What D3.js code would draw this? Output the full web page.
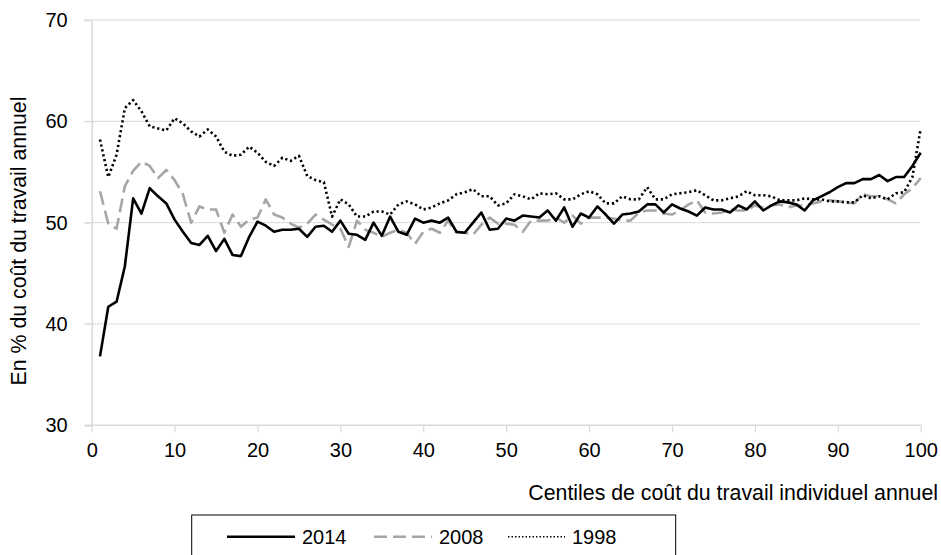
<!DOCTYPE html>
<html>
<head>
<meta charset="utf-8">
<script src="https://cdn.jsdelivr.net/npm/d3@7"></script>
<style>
  html, body { margin: 0; padding: 0; background: #fff; }
  svg text { font-family: "Liberation Sans", Arial, Helvetica, sans-serif; fill: #000; }
</style>
</head>
<body>
<svg id="chart" width="941" height="555"></svg>
<script>
const centiles = d3.range(1, 101);
const xTicks = [0, 10, 20, 30, 40, 50, 60, 70, 80, 90, 100];
const yTicks = [30, 40, 50, 60, 70];
const seriesNames = ["2014", "2008", "1998"];

const s2014 = [
  36.8, 41.7, 42.2, 45.7, 52.4, 50.9, 53.4, 52.6, 51.9, 50.3,
  49.1, 48.0, 47.8, 48.7, 47.2, 48.4, 46.8, 46.7, 48.6, 50.1,
  49.7, 49.1, 49.3, 49.3, 49.4, 48.6, 49.6, 49.7, 49.1, 50.2,
  48.9, 48.8, 48.3, 50.0, 48.7, 50.6, 49.1, 48.8, 50.4, 50.0,
  50.2, 50.0, 50.5, 49.1, 49.0, 50.0, 51.0, 49.3, 49.4, 50.4,
  50.2, 50.7, 50.6, 50.5, 51.2, 50.2, 51.5, 49.6, 50.9, 50.5,
  51.6, 50.8, 49.9, 50.8, 50.9, 51.1, 51.8, 51.8, 51.0, 51.8,
  51.4, 51.1, 50.7, 51.5, 51.3, 51.3, 51.0, 51.7, 51.3, 52.1,
  51.2, 51.7, 52.1, 52.0, 51.8, 51.2, 52.2, 52.6, 53.0, 53.5,
  53.9, 53.9, 54.3, 54.3, 54.7, 54.1, 54.5, 54.5, 55.6, 56.9
];
const s2008 = [
  53.1, 49.9, 49.4, 53.6, 55.1, 56.0, 55.6, 54.4, 55.2, 54.2,
  52.8, 50.0, 51.6, 51.3, 51.3, 49.0, 50.8, 49.6, 50.3, 50.5,
  52.3, 50.8, 50.5, 49.9, 49.5, 49.9, 50.8, 50.3, 49.8, 49.4,
  47.6, 50.2, 49.3, 49.0, 48.6, 49.0, 49.3, 49.0, 47.9, 49.1,
  49.4, 49.0, 50.2, 49.0, 49.0, 48.8, 49.8, 50.5, 49.9, 49.9,
  49.8, 49.1, 50.2, 50.2, 50.2, 50.5, 50.0, 50.7, 49.9, 50.5,
  50.5, 50.5, 50.4, 50.2, 50.2, 51.0, 51.2, 51.2, 50.9, 50.8,
  51.2, 51.8, 52.2, 51.0, 50.9, 51.0, 51.3, 51.2, 51.2, 51.7,
  51.5, 51.7, 51.8, 51.5, 51.7, 51.7, 51.9, 52.1, 52.2, 52.1,
  52.0, 51.9, 52.8, 52.6, 52.6, 52.3, 51.9, 52.8, 53.4, 54.4
];
const s1998 = [
  58.2, 54.5, 56.7, 61.3, 62.1, 61.0, 59.5, 59.3, 59.1, 60.3,
  59.8, 59.0, 58.5, 59.2, 58.5, 57.0, 56.6, 56.7, 57.5, 56.9,
  56.0, 55.6, 56.4, 56.1, 56.6, 54.6, 54.2, 54.0, 50.6, 52.3,
  51.8, 50.6, 50.6, 51.1, 51.1, 50.8, 51.8, 52.1, 51.8, 51.3,
  51.5, 51.9, 52.2, 52.8, 53.0, 53.3, 52.6, 52.6, 51.7, 51.9,
  52.8, 52.6, 52.3, 52.9, 52.8, 52.9, 52.3, 52.3, 52.8, 53.1,
  52.8, 51.9, 51.9, 52.6, 52.3, 52.3, 53.5, 52.3, 52.3, 52.8,
  52.9, 53.0, 53.2, 52.7, 52.2, 52.2, 52.4, 52.6, 53.1, 52.7,
  52.7, 52.6, 52.2, 52.2, 52.2, 52.4, 52.3, 52.3, 52.1, 52.1,
  52.0, 52.0, 52.7, 52.4, 52.6, 52.3, 52.9, 53.0, 54.5, 59.3
];

const yTitle = "En % du coût du travail annuel";
const xTitle = "Centiles de coût du travail individuel annuel";

const svg = d3.select("#chart");
const x = d3.scaleLinear().domain([0, 100]).range([91.7, 920.7]);
const y = d3.scaleLinear().domain([30, 70]).range([425.3, 20]);
const axisColor = "#d9d9d9";
const FS = 20;
const FT = 21.3;

// gridlines
svg.append("g").selectAll("line")
  .data(yTicks.filter(d => d > 30))
  .join("line")
  .attr("x1", x(0) - 7).attr("x2", x(100))
  .attr("y1", d => y(d)).attr("y2", d => y(d))
  .attr("stroke", "#b3b3b3").attr("stroke-width", 1)
  .attr("stroke-dasharray", "1,1");

// y axis
const yAxis = svg.append("g")
  .attr("transform", `translate(${x(0)},0)`)
  .call(d3.axisLeft(y).tickValues(yTicks).tickSize(7).tickPadding(17).tickFormat(d3.format("d")));
yAxis.select(".domain").attr("stroke", axisColor).attr("stroke-width", 1.5);
yAxis.selectAll(".tick line").attr("stroke", axisColor);
yAxis.selectAll(".tick text").attr("font-size", FS).style("font-family", "Liberation Sans, Arial, sans-serif").attr("fill", "#000");

// x axis
const xAxis = svg.append("g")
  .attr("transform", `translate(0,${y(30)})`)
  .call(d3.axisBottom(x).tickValues(xTicks).tickSize(7).tickSizeOuter(0).tickFormat(d3.format("d")));
xAxis.select(".domain").attr("stroke", axisColor).attr("stroke-width", 1.5)
  .attr("d", `M${x(0) - 7},0H${x(100)}`);
xAxis.selectAll(".tick line").attr("stroke", axisColor).attr("stroke-width", 1.2);
xAxis.selectAll(".tick text").attr("font-size", FS).attr("dy", 0).attr("y", 32)
  .style("font-family", "Liberation Sans, Arial, sans-serif").attr("fill", "#000");

// titles
svg.append("text").attr("x", 938).attr("y", 500).attr("text-anchor", "end")
  .attr("font-size", FT).text(xTitle);
svg.append("text").attr("transform", "translate(26,241) rotate(-90)")
  .attr("text-anchor", "middle").attr("font-size", FT).text(yTitle);

// lines
const line = d3.line().x((d, i) => x(centiles[i])).y(d => y(d));
const styles = {
  "2014": { data: s2014, color: "#000", width: 2.6, dash: null },
  "2008": { data: s2008, color: "#a6a6a6", width: 2.6, dash: "14,6" },
  "1998": { data: s1998, color: "#000", width: 2.6, dash: "2.2,2.8" }
};
["2008", "1998", "2014"].forEach(k => {
  const s = styles[k];
  svg.append("path").datum(s.data)
    .attr("d", line)
    .attr("fill", "none")
    .attr("stroke", s.color)
    .attr("stroke-width", s.width)
    .attr("stroke-linejoin", "round")
    .attr("stroke-dasharray", s.dash);
});

// legend
const lg = svg.append("g");
lg.append("rect").attr("x", 191.7).attr("y", 515).attr("width", 484).attr("height", 60)
  .attr("fill", "#fff").attr("stroke", "#000").attr("stroke-width", 1);
const legendItems = [
  { name: seriesNames[0], x1: 227, x2: 295, color: "#000", width: 2.6, dash: null },
  { name: seriesNames[1], x1: 374, x2: 432, color: "#a6a6a6", width: 2.6, dash: "13,6" },
  { name: seriesNames[2], x1: 508, x2: 565, color: "#000", width: 1.5, dash: "1.5,2" }
];
legendItems.forEach(it => {
  lg.append("line").attr("x1", it.x1).attr("x2", it.x2).attr("y1", 536.7).attr("y2", 536.7)
    .attr("stroke", it.color).attr("stroke-width", it.width).attr("stroke-dasharray", it.dash);
  lg.append("text").attr("x", it.x2 + 7).attr("y", 544).attr("font-size", FS).text(it.name);
});
</script>
</body>
</html>
